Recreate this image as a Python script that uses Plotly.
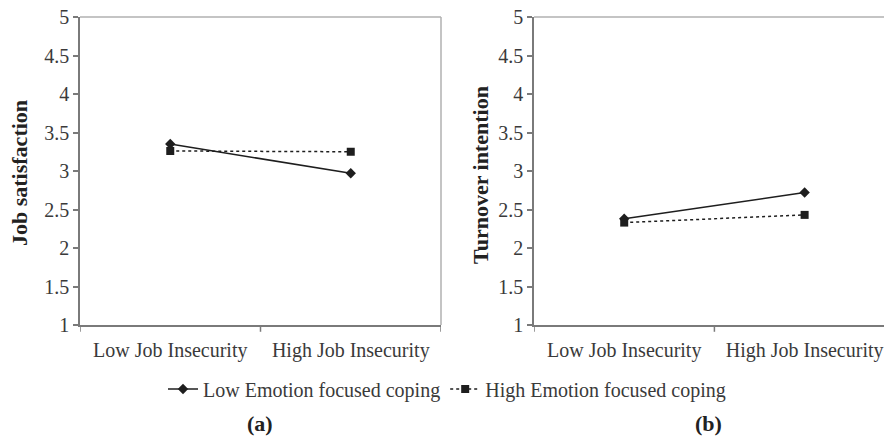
import plotly.graph_objects as go

categories = ["Low Job Insecurity", "High Job Insecurity"]
series_names = ["Low Emotion focused coping", "High Emotion focused coping"]
job_sat_low_efc = [3.35, 2.97]
job_sat_high_efc = [3.26, 3.25]
turnover_low_efc = [2.38, 2.72]
turnover_high_efc = [2.33, 2.43]
y_ticks = [1, 1.5, 2, 2.5, 3, 3.5, 4, 4.5, 5]
y_tick_labels = ["1", "1.5", "2", "2.5", "3", "3.5", "4", "4.5", "5"]

W, H = 884, 436
ML, MR, MT, MB = 80, 0, 17, 111
PW = W - ML - MR
PH = H - MT - MB

def px_x(p):
    return (p - ML) / PW

def px_y(p):
    return (H - MB - p) / PH

FONT = "Liberation Serif, Times New Roman, serif"
TXT = "#3a3a3a"
LINE = "#1e1e1e"

fig = go.Figure()

panels = [("x", "y", job_sat_low_efc, job_sat_high_efc),
          ("x2", "y2", turnover_low_efc, turnover_high_efc)]
for i, (xa, ya, lo, hi) in enumerate(panels):
    fig.add_trace(go.Scatter(
        x=categories, y=lo, xaxis=xa, yaxis=ya, name=series_names[0],
        mode="lines+markers", showlegend=(i == 0),
        line=dict(color=LINE, width=1.5),
        marker=dict(symbol="diamond", size=8, color=LINE),
    ))
    fig.add_trace(go.Scatter(
        x=categories, y=hi, xaxis=xa, yaxis=ya, name=series_names[1],
        mode="lines+markers", showlegend=(i == 0),
        line=dict(color=LINE, width=1.5, dash="dot"),
        marker=dict(symbol="square", size=8, color=LINE),
    ))

axis_common = dict(
    showgrid=False, zeroline=False, showline=True, linecolor="#7a7a7a", linewidth=1.5,
    ticks="outside", ticklen=5, tickcolor="#7a7a7a", tickwidth=1.5,
    tickfont=dict(family=FONT, size=20, color=TXT),
)

fig.update_layout(
    width=W, height=H,
    margin=dict(l=ML, r=MR, t=MT, b=MB),
    paper_bgcolor="white", plot_bgcolor="white",
    font=dict(family=FONT, color=TXT),
    xaxis=dict(domain=[0, px_x(441)], range=[-0.5, 1.5], anchor="y", **axis_common,
               tickmode="array", tickvals=[0, 1], ticktext=categories),
    yaxis=dict(domain=[0, 1], range=[1, 5], anchor="x", tickvals=y_ticks,
               ticktext=y_tick_labels, **axis_common),
    xaxis2=dict(domain=[px_x(534), 1], range=[-0.5, 1.44], anchor="y2", **axis_common,
                tickmode="array", tickvals=[0, 1], ticktext=categories),
    yaxis2=dict(domain=[0, 1], range=[1, 5], anchor="x2", tickvals=y_ticks,
                ticktext=y_tick_labels, **axis_common),
    legend=dict(orientation="h", x=px_x(447), xanchor="center", y=px_y(389), yanchor="middle",
                font=dict(family=FONT, size=20, color=TXT), itemwidth=30,
                bgcolor="rgba(0,0,0,0)"),
    showlegend=True,
)

fig.update_xaxes(ticks="", ticklabelstandoff=6)

shapes = []
# category-boundary tick marks (x axis)
for xa, ya, bounds in [("x", "y", [-0.5, 0.5, 1.5]), ("x2", "y2", [-0.5, 0.5])]:
    for b in bounds:
        shapes.append(dict(type="line", xref=xa, yref=f"{ya} domain", x0=b, x1=b,
                           y0=0, y1=-0.022, line=dict(color="#7a7a7a", width=1.5)))
# top and right frame (lighter)
shapes.append(dict(type="line", xref="x domain", yref="y domain", x0=0, x1=1, y0=1, y1=1,
                   line=dict(color="#b0b0b0", width=1.5)))
shapes.append(dict(type="line", xref="x domain", yref="y domain", x0=1, x1=1, y0=0, y1=1,
                   line=dict(color="#b0b0b0", width=1.5)))
shapes.append(dict(type="line", xref="x2 domain", yref="y2 domain", x0=0, x1=1, y0=1, y1=1,
                   line=dict(color="#b0b0b0", width=1.5)))
fig.update_layout(shapes=shapes)

annotations = [
    dict(text="<b>Job satisfaction</b>", x=px_x(19), y=px_y(173), xref="paper", yref="paper",
         xanchor="center", yanchor="middle",
         textangle=-90, showarrow=False, font=dict(family=FONT, size=22, color="#222")),
    dict(text="<b>Turnover intention</b>", x=px_x(480), y=px_y(175), xref="paper", yref="paper",
         xanchor="center", yanchor="middle",
         textangle=-90, showarrow=False, font=dict(family=FONT, size=22, color="#222")),
    dict(text="<b>(a)</b>", x=px_x(260), y=px_y(423), xref="paper", yref="paper",
         xanchor="center", yanchor="middle",
         showarrow=False, font=dict(family=FONT, size=22, color="#222")),
    dict(text="<b>(b)</b>", x=px_x(708), y=px_y(423), xref="paper", yref="paper",
         xanchor="center", yanchor="middle",
         showarrow=False, font=dict(family=FONT, size=22, color="#222")),
]
fig.update_layout(annotations=annotations)

fig.write_html("out.html", config={"displayModeBar": False},
               post_script="document.body.style.margin='0';document.body.style.overflow='hidden';")
